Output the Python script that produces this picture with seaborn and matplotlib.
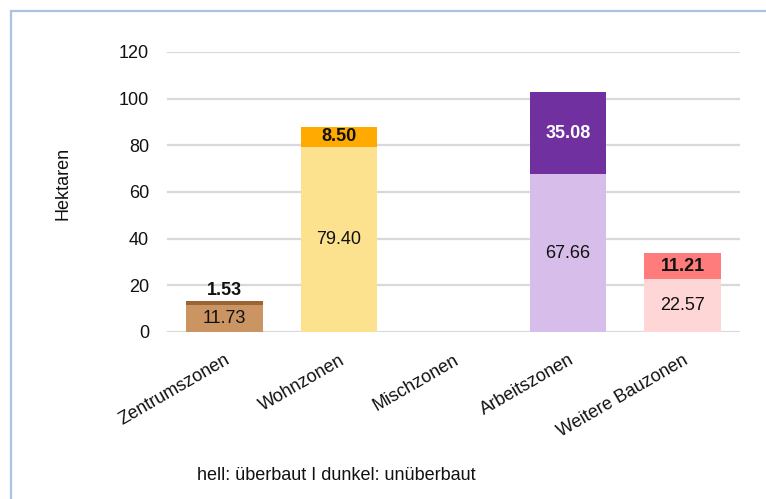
import matplotlib
matplotlib.use("Agg")
import matplotlib.pyplot as plt
import seaborn as sns
import pandas as pd
from matplotlib.patches import Rectangle

categories = ["Zentrumszonen", "Wohnzonen", "Mischzonen", "Arbeitszonen", "Weitere Bauzonen"]
ueberbaut = [11.73, 79.40, 0.0, 67.66, 22.57]
unueberbaut = [1.53, 8.50, 0.0, 35.08, 11.21]
light_colors = ["#CA9562", "#FCE28E", "#DDDDDD", "#D7BDE9", "#FFD6D6"]
dark_colors = ["#9A6533", "#FFAA00", "#AAAAAA", "#7030A0", "#FF7C7C"]
dark_text_colors = ["#111111", "#111111", "#111111", "#FFFFFF", "#111111"]
yticks = [0, 20, 40, 60, 80, 100, 120]

sns.set_theme(style="white")
plt.rcParams["font.family"] = ["Liberation Sans", "DejaVu Sans"]

df = pd.DataFrame({
    "Zone": categories,
    "hell": ueberbaut,
    "dunkel": unueberbaut,
})
df["total"] = df["hell"] + df["dunkel"]

FS = 13

fig = plt.figure(figsize=(7.66, 4.99), dpi=100)
ax = fig.add_axes([167/766, 1-332/499, (740-167)/766, (332-52)/499])

sns.barplot(data=df, x="Zone", y="total", hue="Zone", palette=dark_colors,
            legend=False, width=0.67, ax=ax, saturation=1, linewidth=0)
sns.barplot(data=df, x="Zone", y="hell", hue="Zone", palette=light_colors,
            legend=False, width=0.67, ax=ax, saturation=1, linewidth=0)

ax.set_ylim(0, 120)
ax.set_xlim(-0.5, 4.5)
ax.set_yticks(yticks)
ax.set_yticklabels([str(t) for t in yticks], fontsize=FS, color="#111111")
ax.yaxis.grid(True, color="#D9D9D9", linewidth=1.6)
ax.set_axisbelow(True)
for s in ax.spines.values():
    s.set_visible(False)
ax.tick_params(axis="y", length=0, pad=13)
ax.tick_params(axis="x", length=0, pad=14)
ax.set_xlabel("")
ax.set_ylabel("Hektaren", fontsize=FS, color="#111111")
ax.yaxis.set_label_coords(-0.166, 0.529)
ax.set_xticks(range(len(categories)))
ax.set_xticklabels(categories, rotation=30, ha="right", rotation_mode="anchor",
                   fontsize=FS, color="#111111")

for i, (h, d) in enumerate(zip(ueberbaut, unueberbaut)):
    if h + d == 0:
        continue
    ax.text(i, h / 2, f"{h:.2f}", ha="center", va="center", fontsize=FS,
            color="#111111")
    if d < 4:
        ax.text(i, h + d + 0.8, f"{d:.2f}", ha="center", va="bottom",
                fontsize=FS, fontweight="bold", color=dark_text_colors[i])
    else:
        ax.text(i, h + d / 2, f"{d:.2f}", ha="center", va="center",
                fontsize=FS, fontweight="bold", color=dark_text_colors[i])

fig.text(336/766, 1-475/499, "hell: überbaut I dunkel: unüberbaut", ha="center",
         va="center", fontsize=FS, color="#111111")

border = Rectangle((10.5/766, -0.1), 1.2, 1-11.5/499 + 0.1, transform=fig.transFigure,
                   fill=False, edgecolor="#A9C3E3", linewidth=1.6)
fig.patches.append(border)

fig.savefig("out.png", dpi=100)
